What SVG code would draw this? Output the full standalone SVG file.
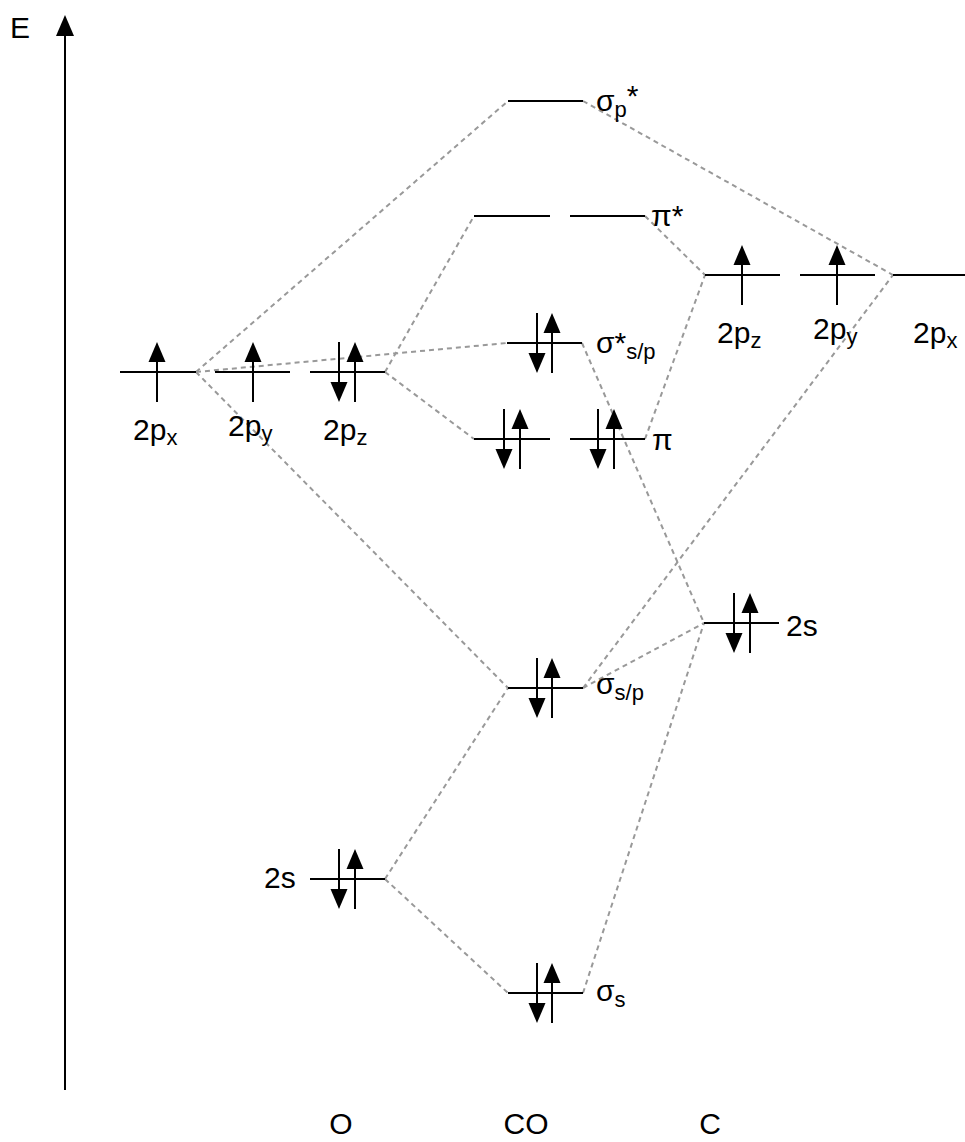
<svg xmlns="http://www.w3.org/2000/svg" xmlns:xlink="http://www.w3.org/1999/xlink" width="965" height="1142" viewBox="0 0 965 1142">
<style>
text{font-family:"Liberation Sans",Arial,sans-serif;font-size:30px;fill:#000}
.sub{font-size:22px}
.lvl{stroke:#000;stroke-width:2;fill:none}
.arr line{stroke:#000;stroke-width:2}
.arr polygon{fill:#000}
.dash line{stroke:#999;stroke-width:2;stroke-dasharray:5,4}
</style>
<defs>
<g id="up" class="arr"><line x1="0" y1="30" x2="0" y2="-12"/><polygon points="0,-30 -8.5,-10 8.5,-10"/></g>
<g id="down" class="arr"><line x1="0" y1="-30" x2="0" y2="12"/><polygon points="0,30 -8.5,10 8.5,10"/></g>
</defs>
<rect width="965" height="1142" fill="#fff"/>
<g id="axis">
<line x1="65" y1="1090" x2="65" y2="32" stroke="#000" stroke-width="2"/>
<polygon points="65,15 56,36 74,36" fill="#000"/>
<text x="10" y="38">E</text>
</g>
<g id="connectors" class="dash">
<line x1="196" y1="372" x2="508" y2="101"/>
<line x1="196" y1="372" x2="507" y2="343"/>
<line x1="196" y1="372" x2="508" y2="688"/>
<line x1="385" y1="372" x2="474" y2="216"/>
<line x1="385" y1="372" x2="474" y2="439"/>
<line x1="583" y1="101" x2="893" y2="275"/>
<line x1="645" y1="216" x2="705" y2="275"/>
<line x1="645" y1="439" x2="705" y2="275"/>
<line x1="582" y1="343" x2="704" y2="623"/>
<line x1="583" y1="688" x2="704" y2="623"/>
<line x1="583" y1="688" x2="893" y2="275"/>
<line x1="385" y1="879" x2="508" y2="688"/>
<line x1="385" y1="879" x2="508" y2="993"/>
<line x1="583" y1="993" x2="704" y2="623"/>
</g>
<g id="O-2px">
<line class="lvl" x1="120" y1="372" x2="196" y2="372"/>
<use xlink:href="#up" x="157" y="372"/>
<text x="133" y="440">2p<tspan class="sub" dy="5">x</tspan></text>
</g>
<g id="O-2py">
<line class="lvl" x1="215" y1="372" x2="290" y2="372"/>
<use xlink:href="#up" x="253" y="372"/>
<text x="228" y="436">2p<tspan class="sub" dy="5">y</tspan></text>
</g>
<g id="O-2pz">
<line class="lvl" x1="310" y1="372" x2="385" y2="372"/>
<use xlink:href="#down" x="339" y="372"/>
<use xlink:href="#up" x="355" y="372"/>
<text x="323" y="440">2p<tspan class="sub" dy="5">z</tspan></text>
</g>
<g id="O-2s">
<line class="lvl" x1="310" y1="879" x2="385" y2="879"/>
<use xlink:href="#down" x="339" y="879"/>
<use xlink:href="#up" x="355" y="879"/>
<text x="264" y="888">2s</text>
</g>
<g id="CO-sigma-p-star">
<line class="lvl" x1="508" y1="101" x2="583" y2="101"/>
<text x="596" y="111">σ<tspan class="sub" dy="6">p</tspan><tspan dy="-11">*</tspan></text>
</g>
<g id="CO-pi-star">
<line class="lvl" x1="474" y1="216" x2="550" y2="216"/>
<line class="lvl" x1="570" y1="216" x2="645" y2="216"/>
<text x="651" y="226">π*</text>
</g>
<g id="CO-sigma-star-sp">
<line class="lvl" x1="507" y1="343" x2="582" y2="343"/>
<use xlink:href="#down" x="537" y="343"/>
<use xlink:href="#up" x="552" y="343"/>
<text x="596" y="353">σ*<tspan class="sub" dy="6">s/p</tspan></text>
</g>
<g id="CO-pi">
<line class="lvl" x1="474" y1="439" x2="550" y2="439"/>
<line class="lvl" x1="570" y1="439" x2="645" y2="439"/>
<use xlink:href="#down" x="504" y="439"/>
<use xlink:href="#up" x="520" y="439"/>
<use xlink:href="#down" x="598" y="439"/>
<use xlink:href="#up" x="614" y="439"/>
<text x="652" y="450">π</text>
</g>
<g id="CO-sigma-sp">
<line class="lvl" x1="508" y1="688" x2="583" y2="688"/>
<use xlink:href="#down" x="537" y="688"/>
<use xlink:href="#up" x="552" y="688"/>
<text x="596" y="694">σ<tspan class="sub" dy="6">s/p</tspan></text>
</g>
<g id="CO-sigma-s">
<line class="lvl" x1="508" y1="993" x2="583" y2="993"/>
<use xlink:href="#down" x="537" y="993"/>
<use xlink:href="#up" x="552" y="993"/>
<text x="596" y="1001">σ<tspan class="sub" dy="6">s</tspan></text>
</g>
<g id="C-2pz">
<line class="lvl" x1="705" y1="275" x2="780" y2="275"/>
<use xlink:href="#up" x="742" y="275"/>
<text x="717" y="343">2p<tspan class="sub" dy="5">z</tspan></text>
</g>
<g id="C-2py">
<line class="lvl" x1="800" y1="275" x2="875" y2="275"/>
<use xlink:href="#up" x="837" y="275"/>
<text x="813" y="339">2p<tspan class="sub" dy="5">y</tspan></text>
</g>
<g id="C-2px">
<line class="lvl" x1="893" y1="275" x2="965" y2="275"/>
<text x="913" y="343">2p<tspan class="sub" dy="5">x</tspan></text>
</g>
<g id="C-2s">
<line class="lvl" x1="704" y1="623" x2="779" y2="623"/>
<use xlink:href="#down" x="734" y="623"/>
<use xlink:href="#up" x="750" y="623"/>
<text x="786" y="636">2s</text>
</g>
<g id="labels">
<text x="341" y="1134" text-anchor="middle">O</text>
<text x="526" y="1134" text-anchor="middle">CO</text>
<text x="710" y="1134" text-anchor="middle">C</text>
</g>
</svg>
